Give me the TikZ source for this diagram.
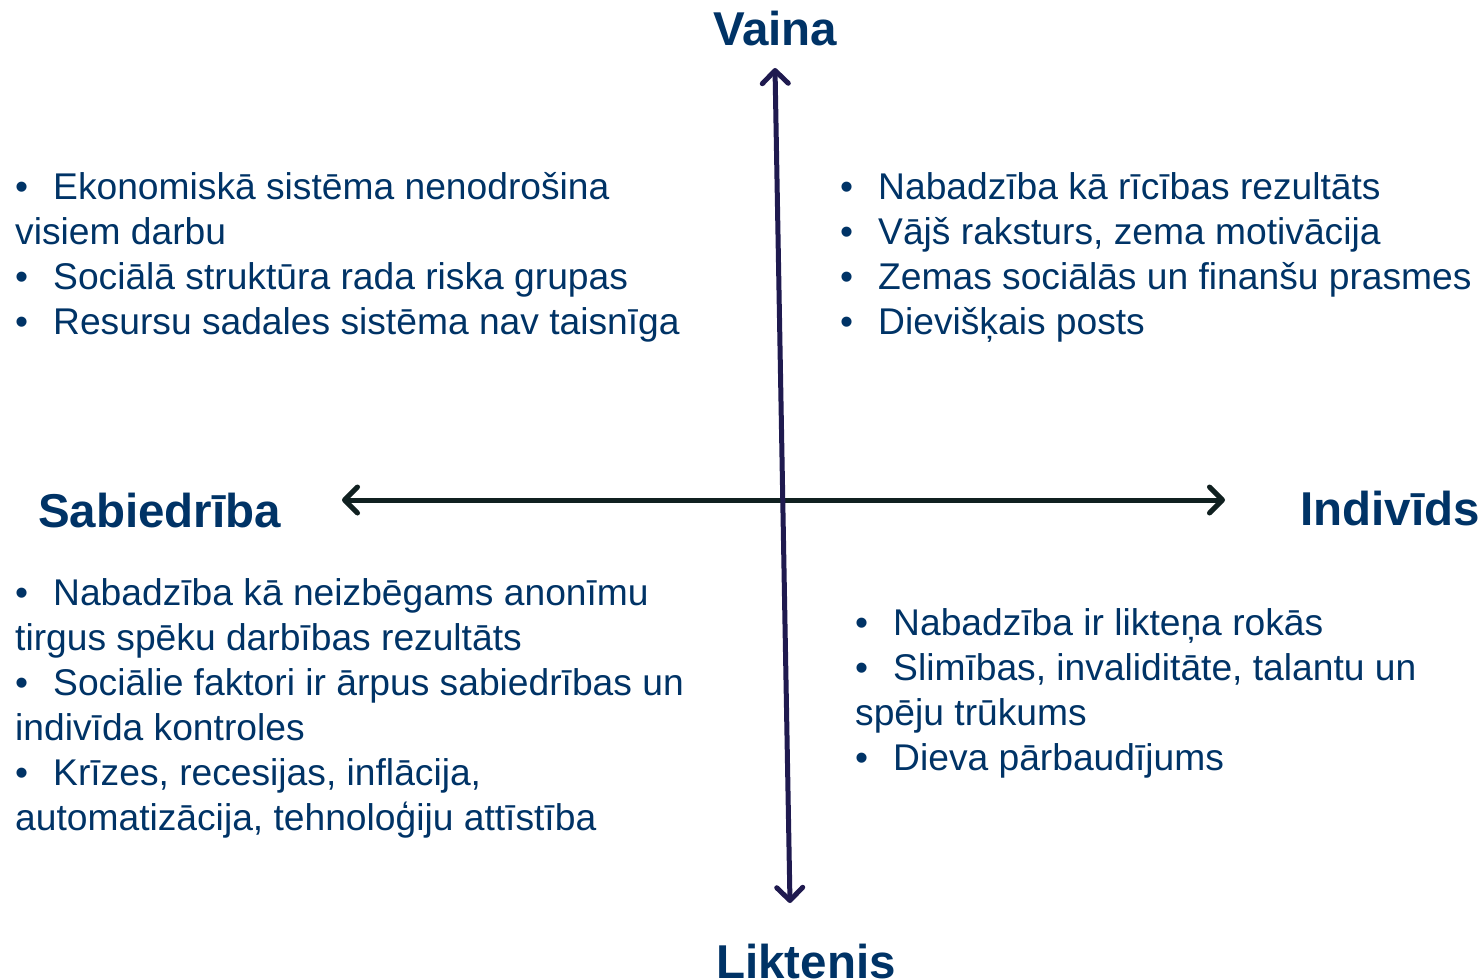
\documentclass[tikz,border=0pt]{standalone}
\usepackage{fontspec}
\setmainfont{Liberation Sans}
\usetikzlibrary{arrows.meta}
\definecolor{txtblue}{RGB}{0,51,102}
\definecolor{vaxis}{RGB}{31,26,79}
\definecolor{haxis}{RGB}{16,32,32}
\tikzset{
  body/.style={anchor=base west,inner sep=0pt,text=txtblue,font=\fontsize{37.2}{45}\selectfont},
  title/.style={anchor=base west,inner sep=0pt,text=txtblue,font=\fontsize{47.5}{52}\selectfont\bfseries},
  axis/.style={line width=5pt,line cap=round,{Straight Barb[length=13pt,width=26pt,line width=5pt,line cap=round,line join=round]}-{Straight Barb[length=13pt,width=26pt,line width=5pt,line cap=round,line join=round]}}
}
\begin{document}
\begin{tikzpicture}[x=1pt,y=-1pt]
\useasboundingbox (0,0) rectangle (1483,979);
% axes
\coordinate (vt) at (775,68);
\coordinate (vb) at (790,903);
\coordinate (hl) at (342,500);
\coordinate (hr) at (1225,500);
\draw[axis,haxis] (hl) -- (hr);
\draw[axis,vaxis] (vt) -- (vb);
% titles
\node[title] (vaina) at (713,46) {Vaina};
\node[title] (sab) at (38,527) {Sabiedrība};
\node[title] (ind) at (1300,525) {Indivīds};
\node[title] (likt) at (716,978) {Liktenis};
% top-left
\node[body] (b1) at (15,199) {•};
\node[body] (t1) at (53,199) {Ekonomiskā sistēma nenodrošina};
\node[body] (t1b) at (15,244) {visiem darbu};
\node[body] (b2) at (15,289) {•};
\node[body] (t2) at (53,289) {Sociālā struktūra rada riska grupas};
\node[body] (b3) at (15,334) {•};
\node[body] (t3) at (53,334) {Resursu sadales sistēma nav taisnīga};
% top-right
\node[body] (b4) at (840,199) {•};
\node[body] (t4) at (878,199) {Nabadzība kā rīcības rezultāts};
\node[body] (b5) at (840,244) {•};
\node[body] (t5) at (878,244) {Vājš raksturs, zema motivācija};
\node[body] (b6) at (840,289) {•};
\node[body] (t6) at (878,289) {Zemas sociālās un finanšu prasmes};
\node[body] (b7) at (840,334) {•};
\node[body] (t7) at (878,334) {Dievišķais posts};
% bottom-left
\node[body] (b8) at (15,605) {•};
\node[body] (t8) at (53,605) {Nabadzība kā neizbēgams anonīmu};
\node[body] (t8b) at (15,650) {tirgus spēku darbības rezultāts};
\node[body] (b9) at (15,695) {•};
\node[body] (t9) at (53,695) {Sociālie faktori ir ārpus sabiedrības un};
\node[body] (t9b) at (15,740) {indivīda kontroles};
\node[body] (b10) at (15,785) {•};
\node[body] (t10) at (53,785) {Krīzes, recesijas, inflācija,};
\node[body] (t10b) at (15,830) {automatizācija, tehnoloģiju attīstība};
% bottom-right
\node[body] (b11) at (855,635) {•};
\node[body] (t11) at (893,635) {Nabadzība ir likteņa rokās};
\node[body] (b12) at (855,680) {•};
\node[body] (t12) at (893,680) {Slimības, invaliditāte, talantu un};
\node[body] (t12b) at (855,725) {spēju trūkums};
\node[body] (b13) at (855,770) {•};
\node[body] (t13) at (893,770) {Dieva pārbaudījums};
\end{tikzpicture}
\end{document}
